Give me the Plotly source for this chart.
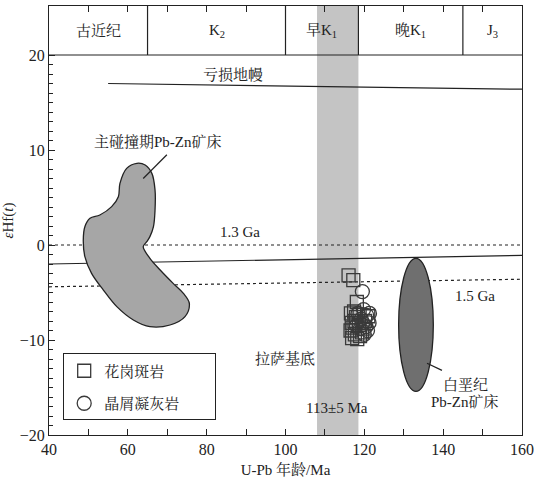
import plotly.graph_objects as go

# ---------------- data ----------------
# header geologic periods (boundaries in Ma)
period_names = ["古近纪", "K<sub>2</sub>", "早K<sub>1</sub>", "晚K<sub>1</sub>", "J<sub>3</sub>"]
period_bounds = [40, 65, 100, 118.5, 145, 160]

# reference evolution lines
dm_x = [55, 160]
dm_y = [17.0, 16.4]
ga13_x = [40, 160]
ga13_y = [0.0, 0.0]
chur_x = [40, 160]
chur_y = [-2.0, -1.1]
ga15_x = [40, 160]
ga15_y = [-4.4, -3.6]

# main-collision Pb-Zn deposit field outline
coll_x = [59.7, 58.0, 57.6, 55.9, 52.9, 50.4, 49.1, 48.7, 49.1, 50.8, 53.8, 57.2, 61.4, 65.6,
          70.7, 74.5, 75.6, 74.1, 71.5, 68.2, 65.6, 63.9, 64.8, 65.6, 66.5, 66.9, 66.9, 66.1,
          64.4, 62.3, 59.7]
coll_y = [8.07, 6.49, 5.09, 4.04, 3.16, 2.81, 1.93, 0.53, -1.23, -2.98, -4.74, -6.49, -7.89, -8.6,
          -8.42, -7.54, -6.14, -5.09, -4.04, -2.63, -1.4, -0.18, 0.35, 0.88, 1.93, 3.68, 5.79, 7.54,
          8.42, 8.6, 8.07]

# Cretaceous Pb-Zn deposit ellipse extent
cret_x = [128.7, 137.5]
cret_y = [-15.4, -1.4]

# 113±5 Ma band
band_x = [108, 118.5]

# samples
granite_x = [116.0, 117.2, 118.1, 116.6, 117.4, 116.8, 117.9, 118.6, 116.5, 117.6, 118.9, 117.0,
             118.2, 119.4, 120.2, 117.5, 118.8, 119.8, 121.0, 116.9]
granite_y = [-3.2, -3.7, -6.0, -7.2, -7.0, -8.2, -7.6, -8.4, -9.0, -9.4, -9.6, -8.7,
             -9.9, -9.2, -8.0, -8.0, -7.3, -8.8, -7.5, -9.8]
tuff_x = [119.5, 119.8, 120.6, 121.2, 120.4, 119.2, 118.4, 120.8, 119.0, 121.3, 118.0, 120.0, 119.6]
tuff_y = [-4.9, -6.8, -7.4, -8.2, -8.6, -7.8, -7.2, -9.0, -8.8, -7.2, -8.5, -9.4, -8.2]

x_range = [40, 160]
y_range = [-20, 25.16]

SERIF = "Liberation Serif, Noto Serif CJK SC, Noto Sans CJK SC, serif"
INK = "#222222"
PAD = "\u00a0" * 8

fig = go.Figure()

# band
fig.add_shape(type="rect", xref="x", yref="y", x0=band_x[0], x1=band_x[1], y0=y_range[0], y1=y_range[1],
              fillcolor="#c4c4c4", line_width=0, layer="below")

# lines
fig.add_trace(go.Scatter(x=dm_x, y=dm_y, mode="lines", line=dict(color=INK, width=1.2),
                         showlegend=False, hoverinfo="skip"))
fig.add_trace(go.Scatter(x=ga13_x, y=ga13_y, mode="lines", line=dict(color=INK, width=1.2, dash="dot"),
                         showlegend=False, hoverinfo="skip"))
fig.add_trace(go.Scatter(x=chur_x, y=chur_y, mode="lines", line=dict(color=INK, width=1.2),
                         showlegend=False, hoverinfo="skip"))
fig.add_trace(go.Scatter(x=ga15_x, y=ga15_y, mode="lines", line=dict(color=INK, width=1.2, dash="dot"),
                         showlegend=False, hoverinfo="skip"))

# collision field
fig.add_trace(go.Scatter(x=coll_x, y=coll_y, mode="lines", fill="toself", fillcolor="#a6a6a6",
                         line=dict(color=INK, width=1.3, shape="spline"), showlegend=False, hoverinfo="skip"))

# cretaceous ellipse
fig.add_shape(type="circle", xref="x", yref="y", x0=cret_x[0], x1=cret_x[1], y0=cret_y[0], y1=cret_y[1],
              fillcolor="#6f6f6f", line=dict(color=INK, width=1.3))

# samples
fig.add_trace(go.Scatter(x=granite_x, y=granite_y, mode="markers", name="花岗斑岩" + PAD,
                         marker=dict(symbol="square-open", size=13, color="#3a3a3a", line=dict(width=1.3)),
                         legendgroup="a"))
fig.add_trace(go.Scatter(x=tuff_x, y=tuff_y, mode="markers", name="晶屑凝灰岩" + PAD,
                         marker=dict(symbol="circle-open", size=14, color="#3a3a3a", line=dict(width=1.3)),
                         legendgroup="b"))

# header
fig.add_shape(type="line", xref="x", yref="y", x0=x_range[0], x1=x_range[1], y0=20, y1=20,
              line=dict(color=INK, width=1.2))
for b in period_bounds[1:-1]:
    fig.add_shape(type="line", xref="x", yref="y", x0=b, x1=b, y0=20, y1=y_range[1],
                  line=dict(color=INK, width=1.2))
for i, name in enumerate(period_names):
    fig.add_annotation(x=(period_bounds[i] + period_bounds[i + 1]) / 2, y=22.55, text=name,
                       showarrow=False, font=dict(family=SERIF, size=15, color=INK))

# leader lines
fig.add_shape(type="line", xref="x", yref="y", x0=69.9, y0=9.5, x1=63.9, y1=7.0,
              line=dict(color=INK, width=1.2))
fig.add_shape(type="line", xref="x", yref="y", x0=135.9, y0=-12.45, x1=139.7, y1=-13.2,
              line=dict(color=INK, width=1.2))

# text labels
labels = [
    (86.7, 18.0, "亏损地幔"),
    (67.7, 10.8, "主碰撞期Pb-Zn矿床"),
    (88.5, 1.4, "1.3 Ga"),
    (148.1, -5.4, "1.5 Ga"),
    (99.9, -11.9, "拉萨基底"),
    (113.1, -17.2, "113±5 Ma"),
    (145.6, -14.7, "白垩纪"),
    (145.6, -16.5, "Pb-Zn矿床"),
]
for x, y, t in labels:
    fig.add_annotation(x=x, y=y, text=t, showarrow=False, font=dict(family=SERIF, size=15, color=INK))

fig.update_layout(
    width=534, height=483,
    margin=dict(l=49, r=12, t=6, b=48, autoexpand=False),
    paper_bgcolor="white", plot_bgcolor="white",
    font=dict(family=SERIF, size=15, color=INK),
    showlegend=True,
    legend=dict(x=0.03, y=0.19, xanchor="left", yanchor="top", bordercolor=INK, borderwidth=1,
                bgcolor="white", font=dict(family=SERIF, size=15, color=INK), tracegroupgap=10),
    xaxis=dict(range=x_range, showgrid=False, zeroline=False, showline=True, linecolor=INK, linewidth=1.2,
               automargin=False,
               mirror="ticks", ticks="inside", ticklen=6, tickcolor=INK, tickvals=[40, 60, 80, 100, 120, 140, 160],
               minor=dict(tickvals=[50, 70, 90, 110, 130, 150], ticks="inside", ticklen=6, tickcolor=INK),
               tickfont=dict(family=SERIF, size=16, color=INK),
               title=dict(text="U-Pb 年龄/Ma", font=dict(family=SERIF, size=15, color=INK), standoff=7)),
    yaxis=dict(range=y_range, showgrid=False, zeroline=False, showline=True, linecolor=INK, linewidth=1.2,
               automargin=False,
               mirror=True, ticks="inside", ticklen=6, tickcolor=INK, tickvals=[-20, -10, 0, 10, 20],
               minor=dict(tickvals=[v for v in range(-20, 21) if v % 10 != 0], ticks="inside", ticklen=4,
                          tickcolor=INK),
               tickfont=dict(family=SERIF, size=16, color=INK),
               title=dict(text="<i>ε</i>Hf(<i>t</i>)", font=dict(family=SERIF, size=15, color=INK), standoff=4)),
)

fig.write_html("out.html")
